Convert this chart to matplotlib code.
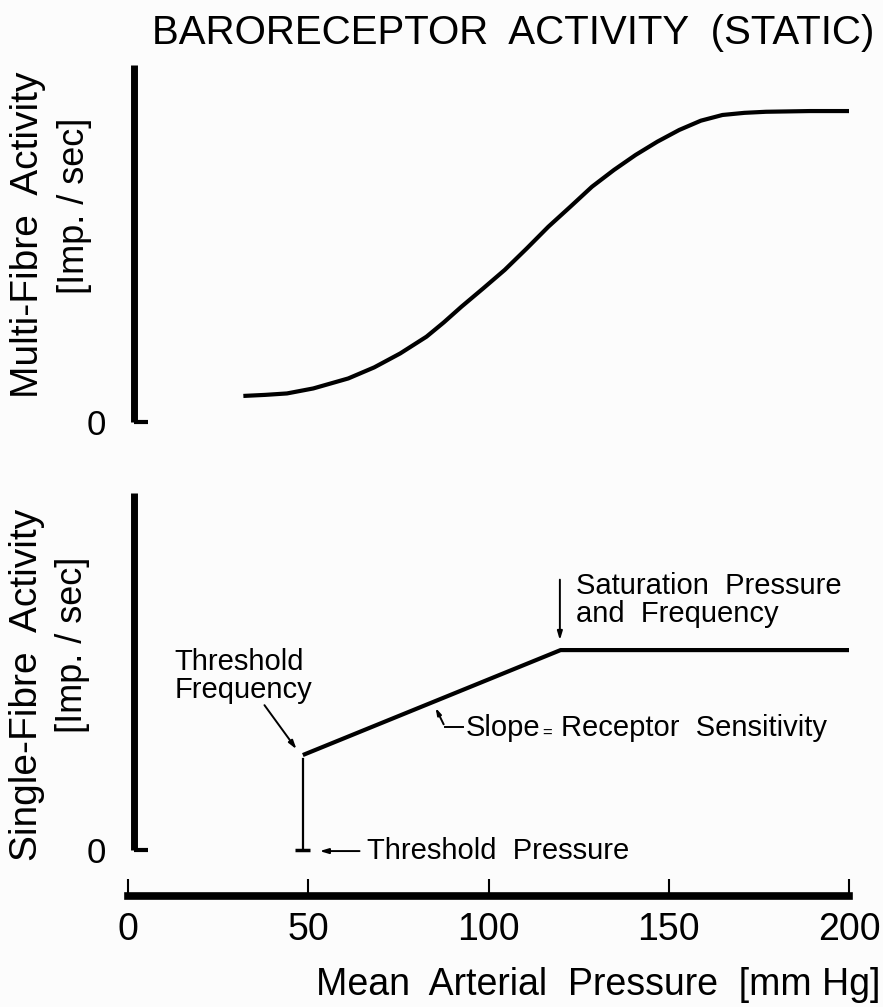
import matplotlib
matplotlib.use("Agg")
import matplotlib.pyplot as plt
import numpy as np

plt.rcParams['font.family'] = ['Liberation Sans', 'DejaVu Sans']

# upper panel: multi-fibre activity (arbitrary units, 0..100 = axis height)
multi_pressure = [32.0, 38.1, 44.1, 51.4, 61.1, 68.3, 75.5, 82.8, 87.6, 92.5, 98.5, 104.5, 110.6,
                  116.6, 122.7, 128.7, 134.8, 140.8, 146.8, 152.9, 158.9, 164.9, 171.0, 177.0,
                  189.1, 200.0]
multi_activity = [7.3, 7.6, 8.0, 9.4, 12.2, 15.3, 19.2, 23.9, 27.9, 32.3, 37.4, 42.6, 48.6,
                  54.7, 60.3, 65.9, 70.6, 74.8, 78.5, 81.8, 84.4, 86.0, 86.6, 86.9,
                  87.1, 87.1]

# lower panel: single-fibre activity
threshold_pressure = 48.5
threshold_freq = 26.6
sat_pressure = 120
sat_freq = 56
max_pressure = 200

x_ticks = [0, 50, 100, 150, 200]

W, H = 883, 1007
fig = plt.figure(figsize=(W / 100, H / 100), dpi=100)
fig.patch.set_facecolor('#fcfcfc')


def px_axes(left, right, top, bottom):
    return fig.add_axes([left / W, 1 - bottom / H, (right - left) / W, (bottom - top) / H])


ax1 = px_axes(128, 849, 65, 422)
ax2 = px_axes(128, 849, 493, 850)

for ax in (ax1, ax2):
    ax.set_facecolor('none')
    ax.set_xlim(0, max_pressure)
    ax.set_ylim(0, 100)
    ax.spines['top'].set_visible(False)
    ax.spines['right'].set_visible(False)
    ax.spines['left'].set_position(('data', 1.6))
    ax.spines['left'].set_linewidth(5)
    ax.spines['left'].set_capstyle('butt')
    ax.set_yticks([0])
    ax.set_yticklabels(['0'], fontsize=25)
    ax.tick_params(axis='y', length=0, pad=20)
    # short foot of the L at zero
    ax.hlines(0, 1.6, 5.5, color='black', lw=3, clip_on=False)

ax1.spines['bottom'].set_visible(False)
ax1.set_xticks([])

ax1.plot(multi_pressure, multi_activity, color='black', lw=3, solid_capstyle='butt')

# lower panel
ax2.spines['bottom'].set_position(('outward', 33))
ax2.spines['bottom'].set_linewidth(5.5)
ax2.spines['bottom'].set_bounds(0, max_pressure)
ax2.set_xticks(x_ticks)
ax2.set_xticklabels([str(t) for t in x_ticks], fontsize=27)
ax2.tick_params(axis='x', direction='in', length=12, width=1.5, pad=12)

ax2.plot([threshold_pressure, threshold_pressure], [0, threshold_freq - 1.2], color='black', lw=1.6)
ax2.hlines(0, threshold_pressure - 2.2, threshold_pressure + 2.0, color='black', lw=2.5, clip_on=False)
ax2.plot([threshold_pressure, sat_pressure, max_pressure],
         [threshold_freq, sat_freq, sat_freq], color='black', lw=3, solid_capstyle='butt')

ann = dict(fontsize=21, color='black')
arrow = dict(arrowstyle='-|>,head_length=0.5,head_width=0.15', color='black', lw=1.4)

ax2.text(13, 48.7, 'Threshold\nFrequency', ha='left', va='center', linespacing=1.0, **ann)
ax2.annotate('', xy=(47.2, 27.6), xytext=(37.4, 41.2), arrowprops=arrow)

ax2.text(124.3, 70, 'Saturation  Pressure\nand  Frequency', ha='left', va='center', linespacing=1.0, **ann)
ax2.annotate('', xy=(119.8, 58.0), xytext=(119.8, 76.5), arrowprops=arrow)

# slope leader: bent line from the text up to the sloped segment
ax2.annotate('', xy=(85.0, 40.5), xytext=(87.9, 34.5),
             arrowprops=dict(arrowstyle='-|>,head_length=0.4,head_width=0.12', color='black', lw=1.4))
ax2.plot([87.9, 92.8], [34.5, 34.5], color='black', lw=1.4)
ax2.text(93.6, 34.3, 'Slope', ha='left', va='center', **ann)
ax2.text(116.2, 32.6, '=', ha='center', va='center', fontsize=12)
ax2.text(120.0, 34.3, 'Receptor  Sensitivity', ha='left', va='center', **ann)

ax2.annotate('', xy=(52.4, -0.3), xytext=(65.0, -0.3), arrowprops=arrow, annotation_clip=False)
ax2.text(66.3, -0.3, 'Threshold  Pressure', ha='left', va='center', **ann)

# titles and axis labels
fig.text(513 / W, 1 - 33 / H, 'BARORECEPTOR  ACTIVITY  (STATIC)', ha='center', va='center', fontsize=29)
fig.text(28 / W, 1 - 235 / H, 'Multi-Fibre  Activity', rotation=90, ha='center', va='center', fontsize=28)
fig.text(75 / W, 1 - 206 / H, '[Imp. / sec]', rotation=90, ha='center', va='center', fontsize=26)
fig.text(27 / W, 1 - 685 / H, 'Single-Fibre  Activity', rotation=90, ha='center', va='center', fontsize=28)
fig.text(73 / W, 1 - 645 / H, '[Imp. / sec]', rotation=90, ha='center', va='center', fontsize=26)
fig.text(880 / W, 1 - 985 / H, 'Mean  Arterial  Pressure  [mm Hg]', ha='right', va='center', fontsize=27)

fig.savefig('out.png', dpi=100, facecolor=fig.get_facecolor())
